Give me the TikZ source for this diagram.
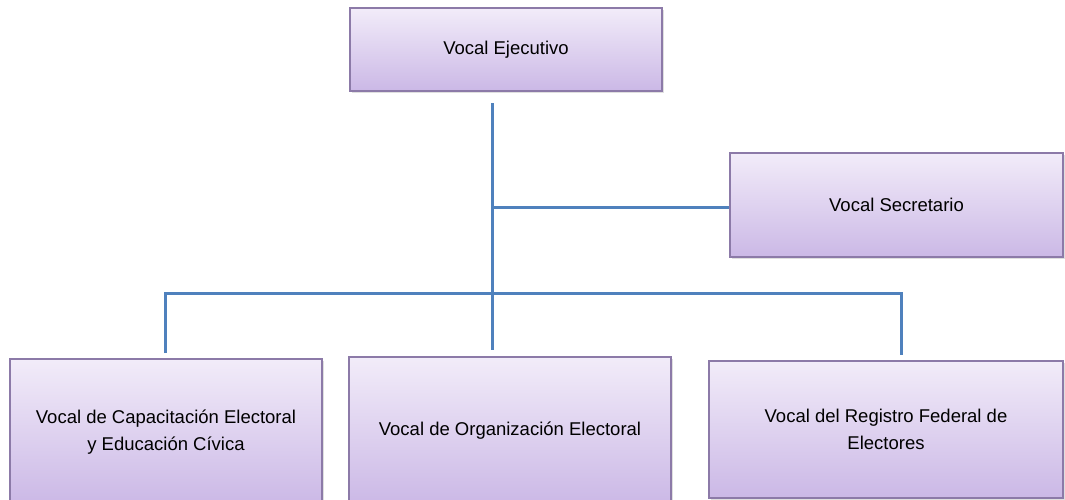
\documentclass[tikz,border=0pt]{standalone}
\usepackage{fontspec}
\setmainfont{Liberation Sans}
\usetikzlibrary{shadows}
\definecolor{boxtop}{RGB}{242,236,249}
\definecolor{boxbot}{RGB}{203,184,230}
\definecolor{boxedge}{RGB}{140,122,168}
\definecolor{linkblue}{RGB}{79,129,189}
\begin{document}
\begin{tikzpicture}[x=1pt,y=-1pt,
  orgbox/.style={draw=boxedge, line width=1.2pt, top color=boxtop, bottom color=boxbot,
    inner sep=0pt, align=center, font=\fontsize{18.5}{27}\selectfont,
    drop shadow={shadow xshift=2pt, shadow yshift=-2pt, opacity=0.25}},
  link/.style={draw=linkblue, line width=3pt}]
\clip (0,0) rectangle (1065,499);
\fill[white] (0,0) rectangle (1065,499);
\node[orgbox, minimum width=312pt, minimum height=83pt] (ve) at (506,49.5) {Vocal Ejecutivo};
\node[orgbox, minimum width=333pt, minimum height=104pt] (vs) at (896.5,205) {Vocal Secretario};
\node[orgbox, minimum width=312pt, minimum height=146pt] (vc) at (166,432) {Vocal de Capacitación Electoral\\y Educación Cívica};
\node[orgbox, minimum width=322pt, minimum height=148pt] (vo) at (510,431) {Vocal de Organización Electoral};
\node[orgbox, minimum width=354pt, minimum height=137pt] (vr) at (886,429.5) {Vocal del Registro Federal de\\Electores};
\coordinate (t0) at (492,103);
\coordinate (js) at (492,207);
\coordinate (jb) at (492,293);
\coordinate (mo) at (492,350);
\coordinate (bl) at (165,293);
\coordinate (br) at (901,293);
\coordinate (cl) at (165,353);
\coordinate (cr) at (901,355);
\draw[link] (t0) -- (mo);
\draw[link] (js) -- (js -| vs.west);
\draw[link, line join=miter] (cl) -- (bl) -- (br) -- (cr);
\end{tikzpicture}
\end{document}
